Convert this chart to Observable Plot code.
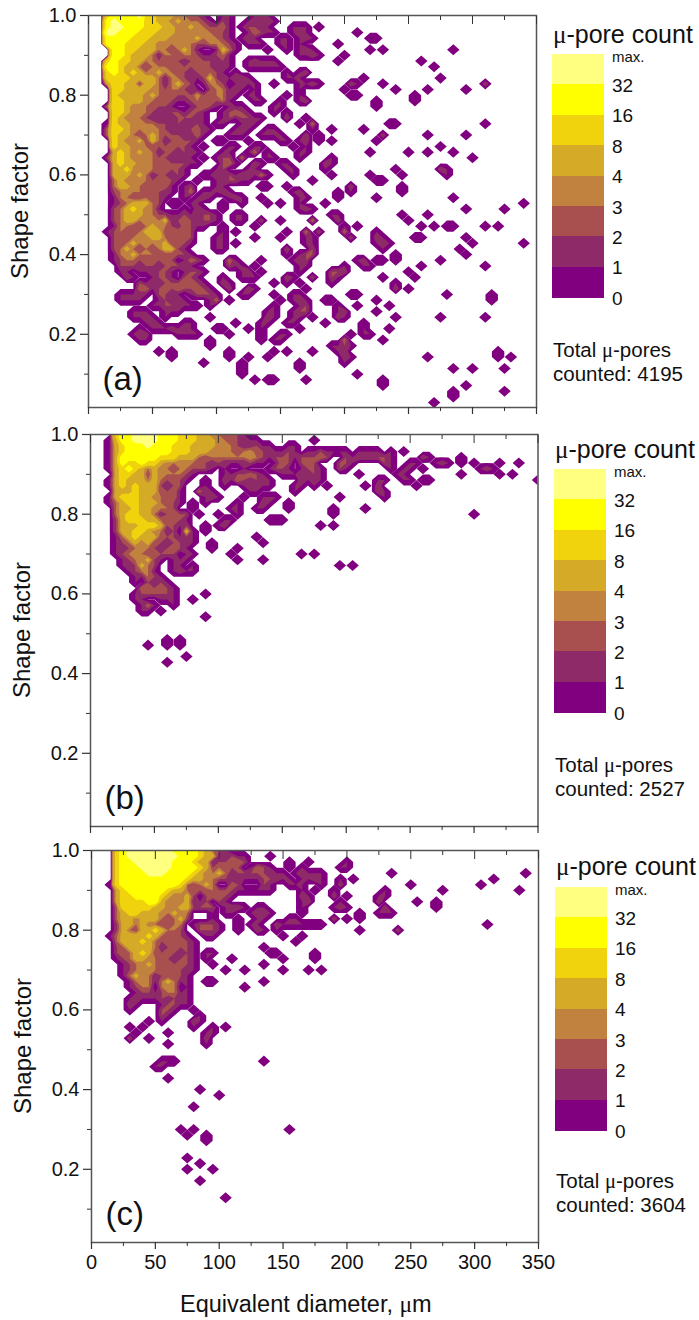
<!DOCTYPE html>
<html><head><meta charset="utf-8">
<script src="https://cdn.jsdelivr.net/npm/d3@7"></script>
<script src="https://cdn.jsdelivr.net/npm/@observablehq/plot@0.6"></script>
<style>
html,body{margin:0;padding:0;background:#fff}
#page{position:relative;width:699px;height:1320px;overflow:hidden;font-family:"Liberation Sans",Arial,sans-serif;color:#111}
#page svg{position:absolute;background:transparent}
.t{position:absolute;white-space:nowrap}
.mu{font-family:"Liberation Serif",serif}
.sw{position:absolute}
</style></head><body><div id="page"></div>
<script>
// Row r is shape factor 1 - r/70, column i is diameter 5*i. Each token "col:codes" gives counts from that column on.
// codes: digits are counts, a=12, b=24, c=42
const rowsA = [
"3:abbbbcaa55533221 21:11 26:111",
"3:bcbbbbaa553533321 21:21 25:11121",
"3:bccbbbaaa553353322 21:31 24:1 25:2211 32:111 36:1",
"3:ccbbbaaa555333333221 25:13211 32:121 42:1",
"3:bbbbaaa5553333533321 24:121 30:11 33:121 44:1 45:1",
"3:bbbaaa553333332233321 25:111 30:11 39:1 33:1",
"4:bbaa5553323531001531 28:1 31:1 33:12 35:1 44:1 46:1 57:1",
"4:bba5553133233211231 33:1 34:121 40:1",
"3:abaa5533222212222121 25:12111 39:1 52:1",
"3:bba55323332222222111 25:1 26:111 28:111 54:1",
"3:aba5a5335332212232101 31:1 33:12",
"3:aaaa55553133211252111 24:21 31:1 32:1 43:1 55:1 33:1",
"3:5aa5525531353201332012 25:1 26:1 29:1 33:1 34:121 41:2 42:1 46:1 62:2",
"4:aa5555332332110233121 26:1 33:1 40:1 48:1 53:1 59:1",
"4:a5555353222224223311 25:1 26:1 31:1 33:1 51:1 41:11",
"4:aa55533222112322231 26:1 30:1 33:1 34:2 45:1 51:1 27:1",
"3:3aa5333222100123210111 29:1 30:1 45:1",
"4:aa53332112212210012321 29:1 31:1",
"4:a53332111122211001212211 31:2 34:1",
"3:1a55333322121121 20:11 24:111 33:1 35:3 47:11 62:1",
"3:3aa5333332111231 19:1 23:111 28:11 35:1 38:1 43:1",
"3:3a55323532221131 22:111 27:1 28:1 29:1 30:1 34:2 36:1 46:2 53:1 59:1",
"4:a5335253122221 20:1 21:1 25:1 30:1 31:1 33:1 34:2 36:1 38:1 45:1",
"4:a553332222221 18:1 22:11 26:1 27:1 32:1 34:1 55:1",
"4:5 5:a 6:5 7:3 8:5 9:3 10:3 11:1 12:2 13:2 14:1 15:2 16:1 17:1 21:11 25:1 26:3 28:1 34:1 33:1 44:1 50:1 53:1 57:1",
"3:2 4:5a 6:5 7:3 8:3 9:3 10:3 11:2 12:2 13:1 14:1 15:1 16:1 18:1 20:1 21:2 22:2 24:3 28:1 29:1 33:1 38:1 60:1",
"4:5a 6:5 7:5 8:3 9:3 10:3 11:2 12:2 13:2 14:2 15:2 16:1 17:1 21:2 22:3 23:1 26:2 27:1 30:11 38:1 37:2",
"4:55a 7:3 8:3 9:3 10:3 11:2 12:2 13:2 14:2 15:1 20:1 21:2 25:1 26:1 31:1 32:1 37:1 48:1 55:2 56:1",
"4:55 6:5 7:3 8:5 9:3 10:1 11:2 12:2 13:1 14:2 15:1 18:1 19:1 20:2 21:1 22:2 23:1 24:2 25:1 26:1 27:3 28:1 32:1 56:1 49:1 44:1 38:1",
"4:3 5:5 6:3 7:3 8:3 9:3 10:2 11:2 12:2 13:2 14:1 17:1 20:1 21:1 22:2 23:2 24:1 25:1 35:1 45:11",
"4:3 5:5 6:5 7:3 8:3 9:2 10:3 11:3 12:3 13:1 15:1 16:2 20:1 21:1 27:1 28:1 31:1 41:2 49:1",
"4:2 5:3 6:3 7:3 8:3 9:2 10:2 11:2 12:1 13:1 15:1 16:3 18:1 19:1 20:1 21:2 22:1 32:1 33:2 41:1 49:1 39:1",
"4:1 5:3 6:3 7:2 8:2 9:3 10:2 11:2 12:1 15:1 17:1 18:2 19:1 22:1 23:2 24:1 27:1 33:1 34:1 39:1 45:1 57:1",
"4:1 5:2 6:3 7:5 8:5 9:5 10:3 11:2 13:1 14:1 16:1 17:1 21:1 24:1 28:1 30:1 33:1 37:1 68:1",
"4:2 5:3 6:5 7:a 8:5 9:3 10:3 11:1 15:1 17:2 18:1 21:1 34:2 33:1 35:1 59:1 65:1",
"4:2 5:3 6:5 7:5 8:5 9:3 10:3 11:2 12:2 13:1 14:1 15:2 16:1 17:1 18:2 19:2 20:1 24:1 23:1 38:1 39:1 49:1 53:1",
"4:2 5:3 6:5 7:5 8:3 9:3 10:3 11:3 12:5 13:1 14:2 15:2 16:2 17:1 18:2 19:2 20:1 23:1 24:1 27:2 30:1 35:3 39:2 50:1",
"4:1 5:3 6:3 7:2 8:2 9:3 10:5 11:3 12:3 13:2 14:1 15:3 16:2 17:1 18:1 26:1 21:1 40:1 42:1 52:1 54:1 56:11 62:1 64:1",
"3:1 4:2 5:3 6:2 7:2 8:3 9:5 10:5 11:5 12:2 13:2 14:3 15:2 16:2 21:1 23:1 31:1 34:3 36:2 40:3 45:1",
"4:2 5:3 6:2 7:3 8:3 9:3 10:5 11:5 12:3 13:2 14:2 15:2 16:2 20:1 21:1 26:1 30:1 35:1 34:1 41:2 45:2 46:1 51:11 59:1",
"4:2 5:2 6:3 7:5 8:3 9:3 10:3 11:3 12:5 13:2 14:2 15:2 16:1 21:1 20:1 23:1 34:1 35:1 45:1 46:1 47:1 60:1 68:1",
"4:2 5:3 6:5 7:3 8:2 9:3 10:2 11:3 12:5 13:5 14:2 15:1 20:1 21:1 31:2 35:2 46:1 58:1",
"4:1 5:3 6:3 7:5 8:3 9:3 10:3 11:2 12:2 13:2 14:2 15:2 16:1 31:1 33:1 34:2 35:2 48:1 59:1",
"4:1 5:2 6:3 7:3 8:2 9:2 10:2 11:2 12:2 13:2 15:1 16:3 17:2 18:1 22:3 23:1 27:1 32:1 34:2 33:1 46:1 45:1 48:1 55:1 43:2 42:1",
"5:2 6:2 7:2 8:1 9:2 10:2 11:1 12:2 13:2 14:2 15:2 16:1 23:1 22:2 24:1 26:1 33:1 34:1 44:1 43:1 52:1 62:1 40:1",
"5:1 6:1 8:1 9:1 10:1 11:2 12:2 13:1 15:1 16:2 17:2 18:1 24:1 25:2 27:1 33:1 39:2 38:2 40:2 33:1 50:1",
"6:2 7:1 10:1 11:2 12:2 13:1 15:2 16:2 17:1 21:1 24:1 25:1 26:1 31:2 32:1 35:2 38:2 39:1 46:1 51:1",
"8:2 9:1 10:1 11:1 12:2 13:2 14:2 15:2 16:2 17:2 18:1 21:2 22:1 29:1 31:1 33:1 38:1 48:1",
"8:3 9:3 10:1 11:2 12:2 13:2 14:3 15:2 16:2 17:2 18:2 19:1 22:2 25:2 26:1 34:1 50:1 48:2",
"5:1 6:1 7:1 8:1 9:1 11:2 12:2 13:1 14:1 16:1 17:2 18:2 19:2 20:1 24:1 25:1 29:1 32:1 33:1 41:11 56:1 63:1",
"5:1 6:1 7:1 8:1 11:1 12:2 13:1 14:1 15:1 19:1 20:3 22:1 30:1 32:1 33:2 34:1 37:11 45:1 63:1 33:1",
"10:1 11:1 12:2 13:2 14:2 15:1 16:1 17:1 19:1 29:1 34:2 33:1 39:1 42:1 47:1",
"7:1 8:1 9:1 12:1 13:1 14:1 29:1 28:1 33:1 32:1 34:2 39:1 40:2 45:1 33:2",
"7:1 8:1 9:1 10:1 12:1 19:1 29:1 28:2 32:1 33:1 35:1 33:1 39:2 40:1 48:1 55:1 62:1",
"9:1 10:1 11:1 15:1 16:1 27:1 23:1 28:1 31:1 32:1 37:1 43:1",
"8:1 10:1 11:1 12:1 13:2 14:1 15:2 16:1 25:1 20:11 27:1 33:1 43:1 47:1",
"7:1 8:2 9:2 14:1 15:1 16:1 17:1 22:1 27:1 30:1 31:1 43:11 41:1",
"8:1 9:1 19:1 27:1 29:1 30:1 40:3 46:1",
"19:1 39:1 40:1 38:1 41:1 40:2",
"11:1 13:1 22:1 29:1 31:1 35:1 40:2 39:1 64:1 35:1",
"13:1 22:1 28:1 53:1 66:1 64:1 40:2 41:1 25:1",
"18:1 24:1 33:1 40:1",
"24:1 33:1 57:1 60:1 65:1",
"42:1 24:1",
"26:1 46:1 34:1 28:11",
"46:1 59:1",
"57:1 65:1",
"57:1",
"54:1"];
const rowsB = [
"4:abbccccbbbaaa55332221",
"3:16bbccccbbbaaa5553322111 25:11 35:1",
"3:15abbbcbbbaaa5555333212 25:121 28:1 31:1 32:1",
"3:15abbbbbbbaaa55533332 23:2 24:3 25:4 26:2 27:2 28:1 29:1 30:1 31:2 32:1 34:1 35:121 37:1 38:1 39:11 42:1111 47:1 49:1",
"3:15bbbbbbaaa55532333333 24:3 25:4 26:3 27:2 28:1 29:2 30:2 31:2 32:1 33:2 34:2 35:2 36:3 37:2 40:2 41:1 42:2 43:2 44:2 45:2 46:2 47:1 52:2 53:1 58:1",
"3:15baabaaa55 11:5 12:3 13:3 14:3 15:3 16:3 17:2 18:2 19:1 20:2 21:1 22:1 23:1 24:1 25:2 26:1 27:1 29:1 30:3 31:2 33:2 34:2 35:2 39:2 40:2 41:1 46:2 47:1 50:1 51:1 54:1 55:2 56:1 58:1 60:1 64:1 67:1",
"3:15abaa5 8:5 9:3 10:5 11:3 12:3 13:2 14:3 15:3 16:2 17:2 18:2 19:1 21:1 24:1 28:1 29:2 30:2 31:1 33:1 34:2 35:2 36:1 39:2 40:1 47:1 49:1 50:1 52:1 61:1 62:2 63:1",
"4:5aa5 7:5 8:5 9:2 10:5 11:3 12:3 13:3 14:3 15:2 16:1 21:1 22:1 23:2 24:2 25:3 26:2 27:1 30:1 31:1 32:1 33:2 34:1 35:2 36:1 42:1 48:1 49:1 58:1 64:1 66:1",
"3:15a5 6:5 7:5 8:5 9:3 10:5 11:3 12:2 13:2 14:2 15:1 18:1 21:2 22:1 23:3 24:2 25:1 26:2 27:1 28:1 33:2 34:1 35:1 36:1 45:1 46:1 49:1 50:1 52:1 53:1 70:1",
"3:15a 6:5 7:a 8:5 9:5 10:5 11:2 12:1 13:2 14:2 18:1 21:1 24:1 25:1 26:2 27:1 28:1 32:1 33:1 35:1 37:1 43:1 45:2 51:1",
"4:5 5:5 6:5 7:a 8:5 9:5 10:5 11:2 12:2 13:3 14:1 17:3 18:1 19:1 25:1 26:1 32:1 45:2 46:1",
"3:1 4:5 5:a 6:a 7:a 8:5 9:5 10:3 11:3 12:2 13:3 14:1 18:1 19:2 20:1 24:1 27:1 28:1 29:1 39:1 46:1",
"3:1 4:3 5:5 6:a 7:a 8:5 9:5 10:5 11:3 12:2 13:2 14:1 16:1 18:1 23:1 27:2 28:1 31:1",
"4:3 5:5 6:5 7:a 8:5 9:5 10:3 11:3 12:3 13:2 16:1 22:1 23:1 26:1 27:1 31:1 38:1 43:1",
"4:3 5:5 6:a 7:a 8:5 9:5 10:3 11:1 12:2 13:2 14:2 15:2 17:1 20:1 23:1 38:1 60:1",
"4:2 5:5 6:a 7:a 8:a 9:5 10:5 11:3 12:2 13:2 14:2 15:1 21:1 22:1 28:111",
"4:2 5:5 6:5 7:5 8:a 9:a 10:a 11:5 12:2 13:2 14:1 15:2 18:1 20:1 21:2 36:1 38:1",
"4:2 5:5 6:5 7:a 8:a 9:5 10:3 11:3 12:1 13:2 15:5 16:1 18:1",
"4:1 5:3 6:5 7:a 8:5 9:5 10:5 11:2 12:2 13:2 14:1 15:2 16:1 26:1",
"4:1 5:2 6:3 7:5 8:3 9:5 10:2 11:2 12:1 13:2 14:2 15:1 16:1 27:1 19:1",
"4:1 5:1 6:2 7:3 8:3 9:3 10:2 11:1 12:2 13:2 14:2 15:1 19:1 23:1",
"4:1 5:2 6:3 7:3 8:3 9:2 10:2 11:2 12:2 13:2 15:1 16:1 22:1 33:1 35:1",
"5:1 6:2 7:3 8:3 9:5 10:2 11:1 13:1 14:1 15:1 23:1 27:1",
"5:1 6:1 7:2 8:5 9:3 10:2 13:1 14:1 16:1 39:1 41:1",
"6:1 7:2 8:3 9:3 10:1 13:1 14:2 15:1 16:1",
"7:1 8:1 9:3 10:2 11:1",
"7:1 9:2 10:1 11:2 12:1",
"8:3 9:2 10:2 11:2 12:2 13:1",
"7:1 8:2 9:2 10:2 11:2 12:2 13:1 18:1",
"7:1 8:1 11:1 12:1 13:1 16:1",
"8:1 9:3 10:1 13:1",
"8:1 9:1 11:1",
"18:1","","","",
"12:1 14:1",
"9:1 12:1 14:1","",
"15:1",
"12:1"];
const rowsC = [
"4:abcccccccbbbba5321",
"4:abccccccccbbba55321 20:1 21:1 22:2 23:1 24:1 28:1",
"4:abbccccccbbba553 19:1 20:2 21:2 22:2 23:3 24:2 31:1",
"4:abbbcccccbbbba5533 19:2 20:3 21:2 22:2 23:2 25:1 26:3 27:2 28:1 31:1 33:1",
"4:abbbbcccbbbba5553 18:3 19:3 20:5 21:3 22:1 23:2 24:2 25:2 26:2 27:2 28:1 29:1 30:1 32:1",
"4:abbbbbbbbbba5535 19:3 20:2 21:2 22:1 23:1 24:1 25:1 26:1 27:2 28:2 29:2 30:1 31:1 33:1",
"3:1 4:abbbbbbbbba5 15:3 16:2 17:3 18:5 19:3 22:3 23:2 27:2 28:1 31:1 32:1",
"4:5abbbbbba5 13:5 14:5 15:3 16:2 17:2 18:2 19:3 20:2 21:2 22:2 23:1 24:1 25:1 26:1 27:1 28:1 33:1 35:1",
"4:5aabbbba5 12:5 13:3 14:3 15:5 16:2 18:2 19:3 20:2 21:2 22:1",
"4:5aaaabba5 11:5 12:3 13:3 14:3 15:5 16:1 17:1 18:2 20:2 21:1",
"4:3 5:a 6:a 7:a 8:a 9:a 10:5 11:5 12:3 13:3 14:5 15:5 16:2 17:2 18:2 19:2 21:1 22:2 23:2 24:1 26:1 27:1",
"4:3 5:5 6:a 7:a 8:5 9:5 10:5 11:3 12:3 13:5 14:3 15:3 19:1 21:1 22:1 25:1 26:2 27:2 28:1 33:1",
"4:3 5:5 6:5 7:3 8:5 9:5 10:5 11:3 12:2 13:3 14:5 15:2 19:1 23:1 26:1 27:1 31:1 32:1",
"4:2 5:5 6:5 7:3 8:5 9:3 10:3 11:2 12:2 13:3 14:3 16:1 17:2 18:2 19:2 20:1 23:1 25:1 26:1 29:2 30:1 31:1 32:1",
"4:2 5:5 6:3 7:2 8:5 9:5 10:a 11:5 12:3 13:3 14:2 17:2 18:2 19:2 20:1 23:1 26:2 27:1 29:1",
"3:1 4:3 5:5 6:5 7:5 8:5 9:a 10:5 11:3 12:2 13:2 14:2 15:1 18:1 19:1 30:1",
"4:3 5:5 6:5 7:5 8:a 9:5 10:3 11:2 12:2 13:2 14:2 15:2 16:1 32:1",
"4:2 5:3 6:5 7:5 8:5 9:5 10:3 11:1 12:2 13:2 14:2 15:2 16:1 27:1",
"4:2 5:2 6:3 7:5 8:a 9:5 10:2 11:2 12:2 13:2 14:1 15:2 16:1 18:1 19:1 28:11",
"4:1 5:2 6:3 7:5 8:5 9:3 10:3 11:2 12:2 13:1 14:2 15:2 16:1 18:1 22:1 30:1",
"5:1 6:2 7:3 8:3 9:5 10:3 11:2 12:3 13:2 14:2 15:2 16:1 19:1 27:1",
"5:1 6:2 7:3 8:3 9:3 10:3 11:2 12:2 13:2 14:2 15:1 16:1 21:1 24:1 30:1",
"5:1 6:3 7:5 8:3 9:3 10:1 11:2 12:2 13:2 14:2 15:1",
"6:1 7:3 8:3 9:3 10:1 11:3 12:5 13:3 14:1 15:1 18:1 19:1 27:1",
"6:1 7:2 8:3 9:3 11:3 12:3 13:3 15:1 24:1",
"7:1 8:2 9:2 10:1 11:2 12:3 13:3 14:1 15:1",
"6:1 7:1 8:1 9:1 10:1 11:2 12:1 13:2 14:1 15:1",
"6:2 7:1 11:1 12:2 13:2 14:1 15:1",
"6:1 11:2 12:2 13:1 16:1",
"11:2 12:1 17:1",
"11:1 16:2 17:1 9:1",
"6:1 8:1 16:1 19:1 21:1",
"7:1 12:1 19:1 18:1",
"6:2 9:1 18:2",
"12:1 18:1",
"","",
"27:1 12:11 11:1",
"10:1 11:1","",
"12:1","",
"17:1",
"20:1","",
"16:1","","","",
"14:1 16:1 31:1",
"15:1 18:1",
"18:1","","",
"15:1",
"17:1",
"15:1 19:1","",
"17:1","","",
"21:1"];
const rowsC2 = {2:"34:1 40:1",3:"39:1 40:1",4:"33:1 34:1 35:1 36:1 47:1 68:1",5:"34:1 35:2 36:1 39:1 41:1 63:1",6:"33:1 36:1 39:2 50:1 61:1",7:"38:1 55:1 67:1 46:1",8:"33:2 34:1 38:2 40:1 45:1 46:1",9:"33:1 34:2 39:1 45:2 51:1 54:1",10:"33:1 38:1 39:2 40:1 46:2 54:1",11:"42:1 45:1 46:1 47:1",12:"38:2 40:1 42:1",13:"33:1 34:1 35:1 36:1 62:1",14:"42:1 48:2",15:"33:1",18:"35:1",19:"35:1",21:"34:1 36:1"};
const legendColors = ["#ffff80","#ffff00","#f0d30c","#d5aa26","#c18240","#a85050","#8e2a68","#800080"];
const legendLabels = ["max.","32","16","8","4","3","2","1","0"];
const bandDomain = [1,2,3,4,8,16,32];
const contourLevels = [0.03,1,2,3,4,8,16,32];
const xTicks = [0,50,100,150,200,250,300,350];
const xMinor = [25,75,125,175,225,275,325];
const yTicks = [0.2,0.4,0.6,0.8,1.0];
const yMinor = [0.1,0.3,0.5,0.7,0.9];
const panels = [
 {rows:rowsA,extra:{},tag:"(a)",total:"4195",l:88,r:536,t:15,b:407,svgTop:0,svgH:421,lx:552,lw:52,ly:54,title:20,tot:338},
 {rows:rowsB,extra:{},tag:"(b)",total:"2527",l:90,r:537.5,t:434,b:826,svgTop:421,svgH:418,lx:554,lw:52,ly:469,title:435,tot:753},
 {rows:rowsC,extra:rowsC2,tag:"(c)",total:"3604",l:91,r:538,t:850,b:1242,svgTop:839,svgH:440,lx:555,lw:52,ly:887,title:852,tot:1169}
];
const codes = {a:12,b:24,c:42};
function grid(rows,extra){
  const N=71, v=new Float64Array(N*N);
  const put=(r,s)=>{ for(const tok of s.split(" ")){ if(!tok) continue; const [c,d]=tok.split(":");
    [...d].forEach((ch,k)=>{ v[r*N+ +c+k] = codes[ch]??+ch; }); } };
  rows.forEach((s,r)=>put(r,s));
  Object.entries(extra).forEach(([r,s])=>put(+r,s));
  return Array.from(v);
}
const page=document.getElementById("page");
function add(cls,txt,css,html){const e=document.createElement("div");e.className=cls;if(html)e.innerHTML=txt;else e.textContent=txt;Object.assign(e.style,css);page.appendChild(e);return e;}
const font='"Liberation Sans",Arial,sans-serif';
const blank=()=>"";
panels.forEach((p,ix)=>{
  const last=ix===2;
  const chart=Plot.plot({
    width:699,height:p.svgH,
    marginLeft:p.l,marginRight:699-p.r,marginTop:p.t-p.svgTop,marginBottom:p.svgTop+p.svgH-p.b,
    x:{domain:[0,350],axis:null},
    y:{domain:[1-392/398.5,1],axis:null},
    color:{type:"threshold",domain:bandDomain,range:legendColors.slice().reverse()},
    style:{fontFamily:font,background:"transparent",color:"#111"},
    marks:[
      Plot.contour(grid(p.rows,p.extra),{width:71,height:71,x1:-2.5,x2:352.5,y1:1+1/140,y2:1+1/140-71/70,value:d=>d,thresholds:contourLevels,fill:"value",clip:true}),
      Plot.frame({stroke:"#555",strokeWidth:1.5}),
      Plot.axisY({ticks:yTicks,anchor:"left",tickSize:8,tickPadding:4,tickFormat:".1f",fontSize:20,label:null,stroke:"#333",strokeWidth:1.2}),
      Plot.axisY({ticks:yMinor,anchor:"left",tickSize:4,tickFormat:blank,label:null,stroke:"#333"}),
      Plot.axisX({ticks:xTicks,anchor:"top",tickSize:-8,tickFormat:blank,label:null,stroke:"#333"}),
      Plot.axisX({ticks:xMinor,anchor:"top",tickSize:-4,tickFormat:blank,label:null,stroke:"#333"}),
      Plot.axisX({ticks:xTicks,anchor:"bottom",tickSize:7,tickPadding:5,tickFormat:last?d=>String(d):blank,fontSize:20,label:null,stroke:"#333",strokeWidth:1.2}),
      Plot.axisX({ticks:xMinor,anchor:"bottom",tickSize:4,tickFormat:blank,label:null,stroke:"#333"}),
      Plot.text([p.tag],{frameAnchor:"bottom-left",dx:14,dy:-18,fontSize:33,fill:"#111",text:d=>d})
    ]
  });
  chart.style.left="0";chart.style.top=p.svgTop+"px";
  page.appendChild(chart);
  add("t","Shape factor",{fontSize:"24px",left:(p.l-68)+"px",top:((p.t+p.b)/2-14)+"px",transform:"translate(-50%,0) rotate(-90deg)"});
  add("t",'<span class="mu">\u03bc</span>-pore count',{fontSize:"25px",left:(p.lx+1)+"px",top:p.title+"px"},true);
  const bandH=30.4;
  legendColors.forEach((c,k)=>add("sw","",{left:p.lx+"px",top:(p.ly+k*bandH)+"px",width:p.lw+"px",height:(bandH+0.5)+"px",background:c}));
  legendLabels.forEach((s,k)=>add("t",s,{fontSize:k?"19px":"15px",left:(p.lx+60)+"px",top:(p.ly+k*bandH+(k?-9.5:-6))+"px"}));
  add("t",'Total <span class="mu">\u03bc</span>-pores',{fontSize:"20.5px",left:(p.lx+1)+"px",top:p.tot+"px"},true);
  add("t","counted: "+p.total,{fontSize:"20.5px",left:(p.lx+1)+"px",top:(p.tot+24)+"px"});
});
add("t",'Equivalent diameter, <span class="mu">\u03bc</span>m',{fontSize:"23.5px",left:"180px",top:"1291px"},true);
</script></body></html>
